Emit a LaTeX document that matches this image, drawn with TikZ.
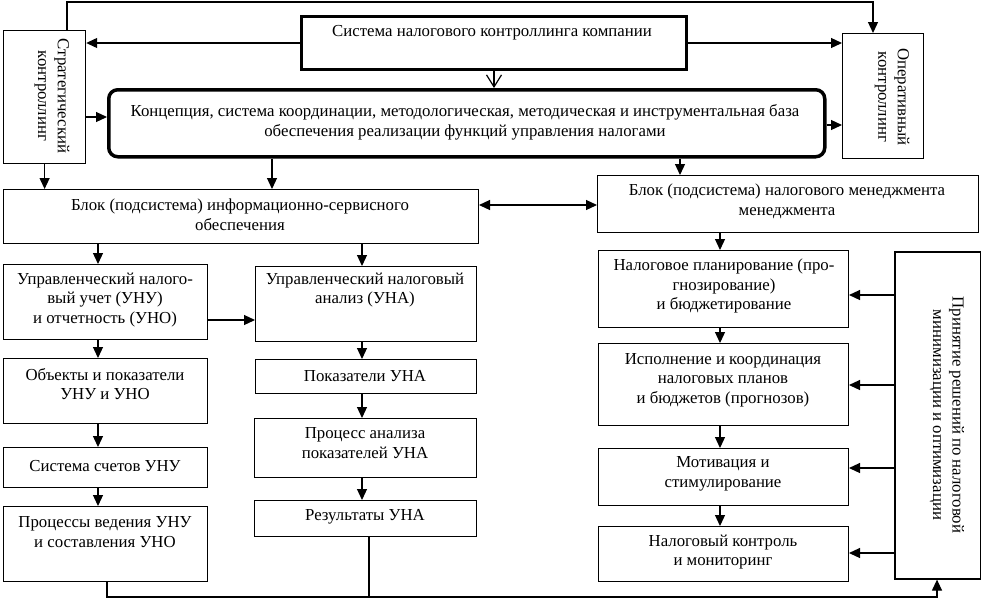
\documentclass[tikz,border=0pt]{standalone}
\usepackage{fontspec}
\setmainfont{Liberation Serif}
\usetikzlibrary{arrows.meta}
\begin{document}
\begin{tikzpicture}[x=1pt,y=-1pt,
  box/.style={draw, line width=1pt, inner sep=0pt, anchor=north west},
  thickbox/.style={box, line width=3pt},
  txt/.style={align=center, inner sep=0pt, font=\fontsize{16.8}{19.6}\selectfont},
  conn/.style={line width=1.2pt},
  arr/.style={conn, -{Triangle[length=11pt,width=10pt]}},
  darr/.style={conn, {Triangle[length=11pt,width=10pt]}-{Triangle[length=11pt,width=10pt]}},
  oarr/.style={conn, -{Straight Barb[length=12pt,width=15pt]}}]
\useasboundingbox (0,0) rectangle (981,598);
\newcommand\bx[6][box]{\node[#1,minimum width=#5pt,minimum height=#6pt] (#2) at (#3,#4) {};}
% boxes
\bx[box,line width=1.2pt]{strat}{3}{30}{82}{133}
\bx[thickbox]{sys}{300}{15}{385}{53}
\bx[box,line width=1.2pt]{op}{842}{33}{81}{125}
\bx[thickbox,rounded corners=9pt,line width=3.5pt]{concept}{107}{88}{716}{67}
\bx{info}{3}{189}{475}{54}
\bx{mgmt}{597}{175}{381}{57}
\bx{unu}{3}{264}{204}{75}
\bx{una}{255}{266}{221}{75}
\bx{obj}{3}{358}{204}{65}
\bx{pok}{255}{359}{221}{34}
\bx{proc}{254}{418}{222}{59}
\bx{res}{254}{500}{222}{36}
\bx{sch}{3}{447}{204}{40}
\bx{ved}{3}{506}{204}{75}
\bx{plan}{598}{250}{250}{77}
\bx{isp}{598}{343}{250}{82}
\bx{mot}{598}{448}{250}{57}
\bx{ctl}{598}{526}{250}{55}
\bx[box,line width=1.6pt]{dec}{894}{251}{86}{327}
% texts
\node[txt] (t-sys) at (492,33) {Система налогового контроллинга компании};
\node[txt] (t-concept) at (465,122) {Концепция, система координации, методологическая, методическая и инструментальная база\\обеспечения реализации функций управления налогами};
\node[txt] (t-info) at (240,215) {Блок (подсистема) информационно-сервисного\\обеспечения};
\node[txt] (t-mgmt) at (787,201) {Блок (подсистема) налогового менеджмента\\менеджмента};
\node[txt] (t-unu) at (105,300) {Управленческий налого-\\вый учет (УНУ)\\и отчетность (УНО)};
\node[txt] (t-una) at (365,290) {Управленческий налоговый\\анализ (УНА)};
\node[txt] (t-obj) at (105,384) {Объекты и показатели\\УНУ и УНО};
\node[txt] (t-pok) at (365,376) {Показатели УНА};
\node[txt] (t-proc) at (365,443) {Процесс анализа\\показателей УНА};
\node[txt] (t-res) at (365,517) {Результаты УНА};
\node[txt] (t-sch) at (105,466) {Система счетов УНУ};
\node[txt] (t-ved) at (105,532) {Процессы ведения УНУ\\и составления УНО};
\node[txt] (t-plan) at (724,286) {Налоговое планирование (про-\\гнозирование)\\и бюджетирование};
\node[txt] (t-isp) at (723,380) {Исполнение и координация\\налоговых планов\\и бюджетов (прогнозов)};
\node[txt] (t-mot) at (723,474) {Мотивация и\\стимулирование};
\node[txt] (t-ctl) at (723,552) {Налоговый контроль\\и мониторинг};
\node[txt,rotate=-90] (t-strat) at (52,96) {Стратегический\\контроллинг};
\node[txt,rotate=-90] (t-op) at (892,97) {Оперативный\\контроллинг};
\node[txt,rotate=-90] (t-dec) at (947,415) {Принятие решений по налоговой\\минимизации и оптимизации};
% helper coordinates
\coordinate (xTL) at (67,2);
\coordinate (xTR) at (873,2);
\coordinate (ySC) at (0,117);
\coordinate (yCO) at (0,125);
\coordinate (xC1) at (272,0);
\coordinate (xC2) at (680,0);
\coordinate (yIM) at (0,205);
\coordinate (xI1) at (98,0);
\coordinate (xI2) at (362,0);
\coordinate (yUU) at (0,320);
\coordinate (xR) at (369,0);
\coordinate (xV) at (107,0);
\coordinate (yB) at (0,597);
\coordinate (xD) at (937,0);
\coordinate (xM) at (720,0);
\coordinate (yP1) at (0,295);
\coordinate (yP2) at (0,385);
\coordinate (yP3) at (0,468);
\coordinate (yP4) at (0,553);
% connectors
\draw[arr] (strat.north -| xTL) -- (xTL) -- (xTR) -- (op.north -| xTR);
\draw[arr] (sys.west) -- (strat.east |- sys.west);
\draw[arr] (sys.east) -- (op.west |- sys.east);
\draw[oarr] (sys.south) -- (concept.north -| sys.south);
\draw[arr] (strat.east |- ySC) -- (concept.west |- ySC);
\draw[arr] (concept.east |- yCO) -- (op.west |- yCO);
\draw[arr] (strat.south) -- (info.north -| strat.south);
\draw[arr] (concept.south -| xC1) -- (info.north -| xC1);
\draw[arr] (concept.south -| xC2) -- (mgmt.north -| xC2);
\draw[darr] (info.east |- yIM) -- (mgmt.west |- yIM);
\draw[arr] (info.south -| xI1) -- (unu.north -| xI1);
\draw[arr] (info.south -| xI2) -- (una.north -| xI2);
\draw[arr] (unu.east |- yUU) -- (una.west |- yUU);
\draw[arr] (unu.south -| xI1) -- (obj.north -| xI1);
\draw[arr] (obj.south -| xI1) -- (sch.north -| xI1);
\draw[arr] (sch.south -| xI1) -- (ved.north -| xI1);
\draw[arr] (una.south -| xI2) -- (pok.north -| xI2);
\draw[arr] (pok.south -| xI2) -- (proc.north -| xI2);
\draw[arr] (proc.south -| xI2) -- (res.north -| xI2);
\draw[arr] (ved.south -| xV) -- (xV |- yB) -- (xD |- yB) -- (dec.south -| xD);
\draw[conn] (res.south -| xR) -- (xR |- yB);
\draw[arr] (mgmt.south -| xM) -- (plan.north -| xM);
\draw[arr] (plan.south -| xM) -- (isp.north -| xM);
\draw[arr] (isp.south -| xM) -- (mot.north -| xM);
\draw[arr] (mot.south -| xM) -- (ctl.north -| xM);
\draw[arr] (dec.west |- yP1) -- (plan.east |- yP1);
\draw[arr] (dec.west |- yP2) -- (isp.east |- yP2);
\draw[arr] (dec.west |- yP3) -- (mot.east |- yP3);
\draw[arr] (dec.west |- yP4) -- (ctl.east |- yP4);
\end{tikzpicture}
\end{document}
